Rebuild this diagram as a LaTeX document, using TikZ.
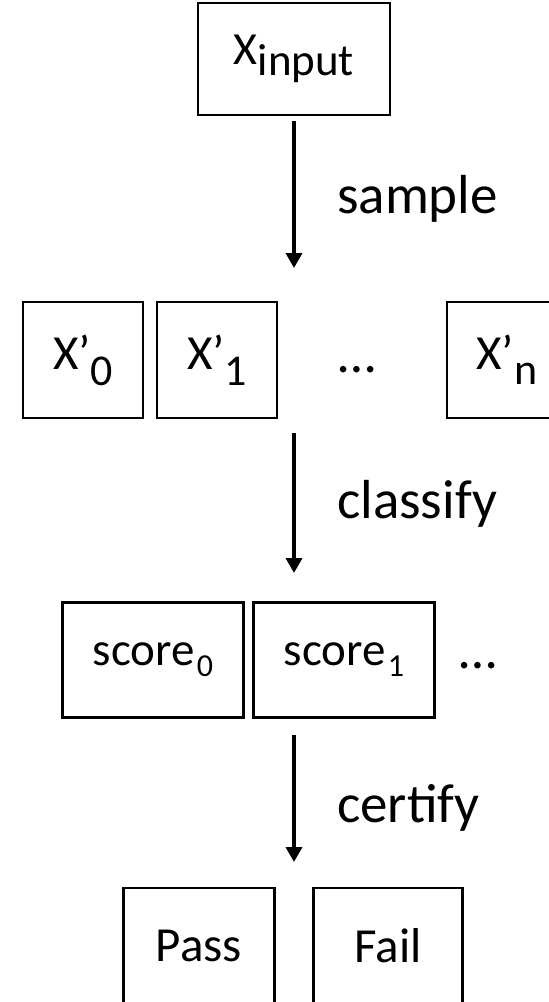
\documentclass[tikz,border=0pt]{standalone}
\usepackage{fontspec}
\setmainfont{Carlito}
\usetikzlibrary{arrows.meta, positioning}

% lowered, resized subscript: drop, size, text
\newcommand{\lowsub}[3]{\raisebox{-#1pt}{\fontsize{#2pt}{#2pt}\selectfont #3}}

\begin{document}
\begin{tikzpicture}[x=1pt, y=-1pt,
    blk/.style={draw, line width=2.3pt, inner sep=0pt, minimum width=120pt, minimum height=116pt, font=\fontsize{49}{52}\selectfont},
    wide/.style={blk, minimum width=181pt, minimum height=115pt, font=\fontsize{47}{50}\selectfont},
    lbl/.style={anchor=base west, inner sep=0pt, font=\fontsize{55}{60}\selectfont},
    more/.style={anchor=base, inner sep=0pt, font=\fontsize{54}{58}\selectfont},
    flow/.style={line width=3.5pt, -{Triangle[length=15pt, width=16pt]}}
  ]
    \useasboundingbox (0,0) rectangle (549,1002);
    \node[blk, minimum width=192pt, minimum height=112pt, font=\fontsize{46}{50}\selectfont] (xin) at (294,59) {X\lowsub{11}{45}{input}};
    % samples
    \foreach \i/\cx in {0/83,1/217} {
      \node[blk] (xs\i) at (\cx,360) {X’\lowsub{16}{44}{\i}};
    }
    \node[more] (xsd) at (357,375) {\raisebox{3pt}{…}};
    \node[blk] (xsn) at (507,360) {X’\lowsub{15}{44}{n}};
    % scores
    \foreach \i/\cx in {0/153,1/344} {
      \node[wide] (sc\i) at (\cx,660) {score\kern2pt\lowsub{11}{32}{\i}};
    }
    \node[more] (scd) at (478,672) {\raisebox{4pt}{…}};
    % result
    \node[blk, minimum width=151pt] (pass) at (199,946) {Pass};
    \node[blk, minimum width=149pt] (fail) at (388,946) {Fail};
    % arrows
    \coordinate (s0) at (294,121);
    \coordinate (s1) at (294,268);
    \coordinate (c0) at (294,433);
    \coordinate (c1) at (294,573);
    \coordinate (f0) at (294,735);
    \coordinate (f1) at (294,862);
    \draw[flow] (s0) -- (s1);
    \draw[flow] (c0) -- (c1);
    \draw[flow] (f0) -- (f1);
    \node[lbl] (lsample) at (337,213) {sample};
    \node[lbl] (lclassify) at (337,518) {classify};
    \node[lbl] (lcertify) at (337,822) {certify};
  \end{tikzpicture}
\end{document}
